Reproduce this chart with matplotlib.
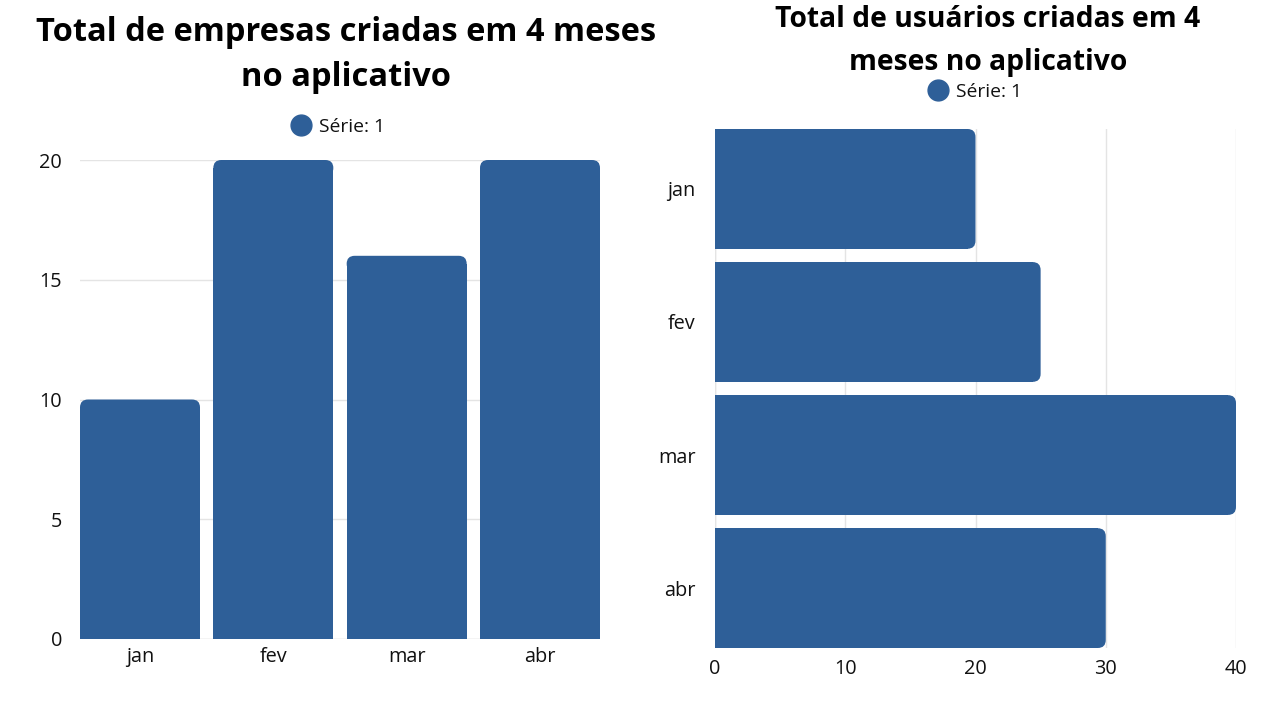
#! /usr/bin/env python
"""
  Two bar charts: empresas (vertical) and usuarios (horizontal) per month
"""

import matplotlib
matplotlib.use('Agg')
import matplotlib.pyplot as plt
from matplotlib.patches import FancyBboxPatch
from matplotlib.lines import Line2D

plt.rcParams['font.family'] = ['Open Sans', 'DejaVu Sans']

meses = ['jan', 'fev', 'mar', 'abr']
empresas = [10, 20, 16, 20]
usuarios = [20, 25, 40, 30]
serie = 'Série: 1'

COR = '#2e5f98'
GRID = '#e4e4e4'
TXT = '#111111'
W, H = 1280, 727


def round_ends(ax, bars, r_px, horizontal=False):
  # round the free end of each bar, radius given in pixels
  p0 = ax.transData.transform((0, 0))
  p1 = ax.transData.transform((1, 1))
  rx = r_px / abs(p1[0] - p0[0])
  ry = r_px / abs(p1[1] - p0[1])
  for b in bars:
    x, y, w, h = b.get_x(), b.get_y(), b.get_width(), b.get_height()
    if horizontal:
      b.set_width(w - rx)
      box = (x + w - 2 * rx, y), 2 * rx, h
    else:
      b.set_height(h - ry)
      box = (x, y + h - 2 * ry), w, 2 * ry
    ax.add_patch(FancyBboxPatch(*box, boxstyle='round,pad=0,rounding_size=%f' % rx,
                                mutation_aspect=ry / rx, fc=COR, ec='none', zorder=3))


def legenda(fig, cx, cy):
  h = Line2D([], [], marker='o', ls='none', color=COR, markersize=15)
  fig.legend([h], [serie], loc='center', bbox_to_anchor=(cx / W, 1 - cy / H),
             frameon=False, fontsize=13.9, handletextpad=0.45, handlelength=1.0,
             borderaxespad=0, borderpad=0, labelcolor=TXT)


def main():
  fig = plt.figure(figsize=(12.8, 7.27), dpi=100)

  # left: vertical bars
  ax1 = fig.add_axes([80 / W, 88 / H, 520 / W, 479 / H])
  x = range(len(meses))
  ax1.set_xlim(-0.45, 3.45)
  ax1.set_ylim(0, 20)
  b1 = ax1.bar(x, empresas, width=0.9, color=COR, zorder=3)
  round_ends(ax1, b1, 8)
  ax1.set_xticks(list(x), meses)
  ax1.set_yticks([0, 5, 10, 15, 20])
  ax1.grid(axis='y', color=GRID, lw=1, zorder=0)
  ax1.tick_params(length=0, labelsize=14.3, colors=TXT)
  ax1.tick_params(axis='y', pad=13)
  ax1.tick_params(axis='x', pad=6)
  for s in ax1.spines.values():
    s.set_visible(False)
  ax1.axhline(0, color=GRID, lw=1, zorder=2)

  # right: horizontal bars
  ax2 = fig.add_axes([715 / W, 79 / H, 521 / W, 519 / H])
  ax2.set_ylim(3.45, -0.45)
  ax2.set_xlim(0, 40)
  b2 = ax2.barh(x, usuarios, height=0.9, color=COR, zorder=3)
  round_ends(ax2, b2, 8, horizontal=True)
  ax2.set_yticks(list(x), meses)
  ax2.set_xticks([0, 10, 20, 30, 40])
  ax2.grid(axis='x', color=GRID, lw=1, zorder=0)
  ax2.tick_params(length=0, labelsize=14.3, colors=TXT)
  ax2.tick_params(axis='y', pad=14)
  ax2.tick_params(axis='x', pad=8)
  for s in ax2.spines.values():
    s.set_visible(False)
  ax2.axvline(0, color=GRID, lw=1, zorder=2)

  fig.text(346 / W, 1 - 55 / H, 'Total de empresas criadas em 4 meses\nno aplicativo',
           ha='center', va='center', fontsize=23.5, fontweight='bold', color='black',
           linespacing=1.48)
  fig.text(988 / W, 1 - 41 / H, 'Total de usuários criadas em 4\nmeses no aplicativo',
           ha='center', va='center', fontsize=20.3, fontweight='bold', color='black',
           linespacing=1.6)

  legenda(fig, 338, 127)
  legenda(fig, 975, 92)

  fig.savefig('out.png', dpi=100)
  plt.close(fig)


if __name__ == "__main__":
  main()
